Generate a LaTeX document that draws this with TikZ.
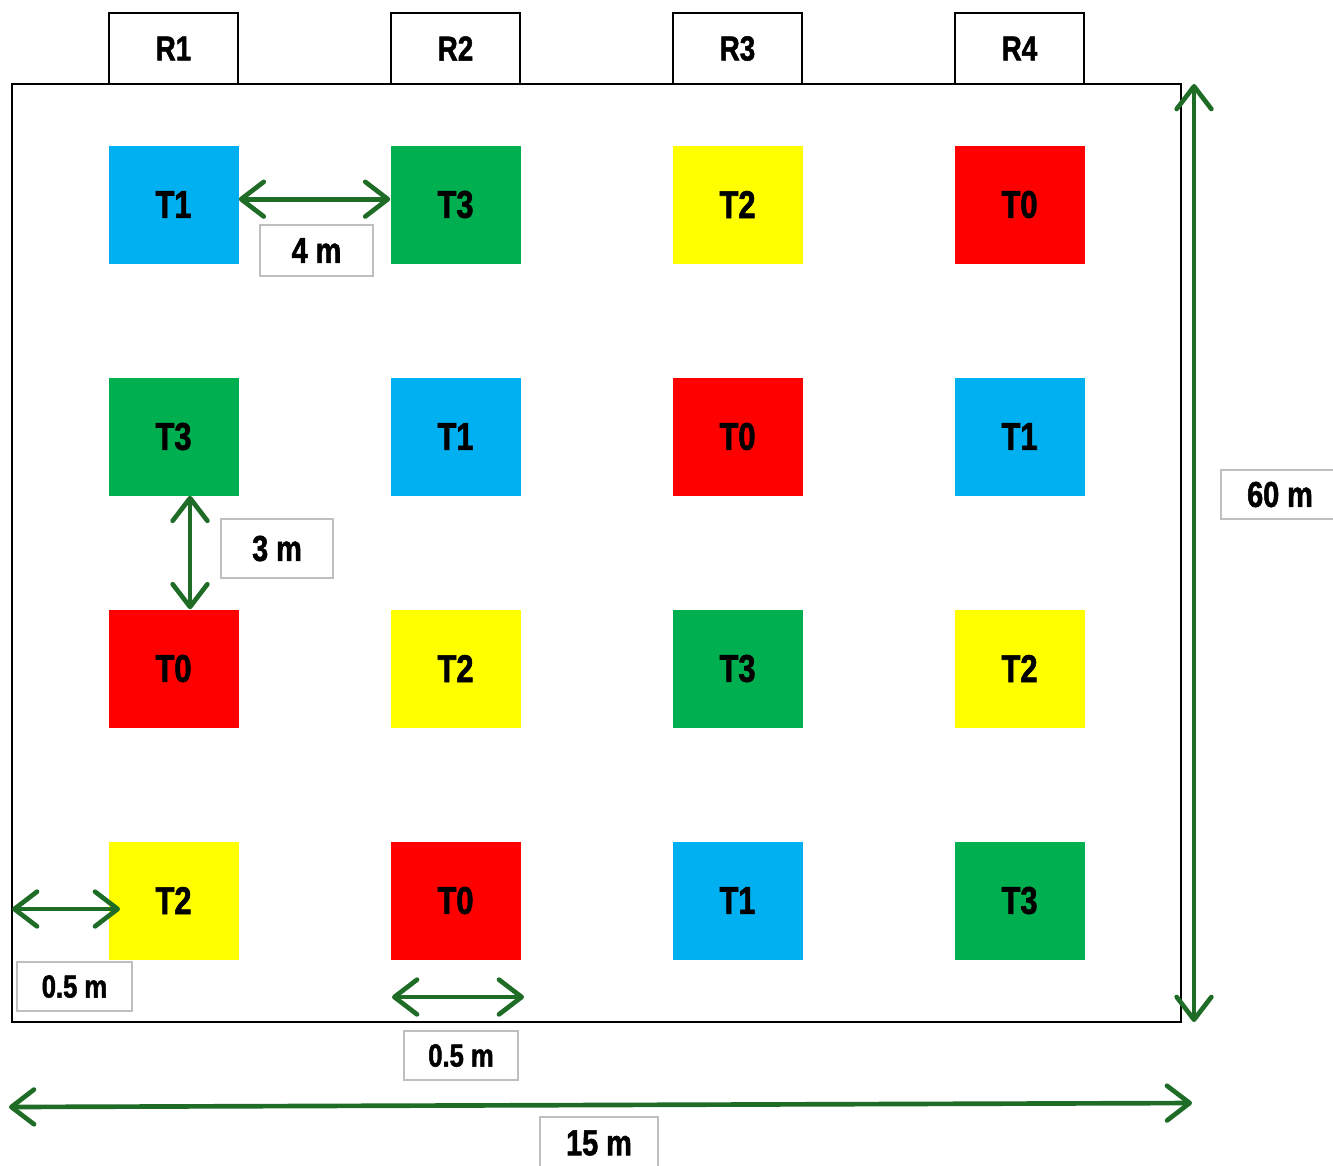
\documentclass[tikz,border=0pt]{standalone}
\usepackage{fontspec}
\setmainfont{Liberation Sans}[FakeStretch=0.8,FakeBold=1.5]
\usetikzlibrary{arrows.meta}

\definecolor{tzero}{RGB}{255,0,0}
\definecolor{tone}{RGB}{0,176,240}
\definecolor{ttwo}{RGB}{255,255,0}
\definecolor{tthree}{RGB}{0,176,80}
\definecolor{dimgreen}{RGB}{30,108,38}
\definecolor{boxgray}{RGB}{191,191,191}

\tikzset{
  plotbox/.style={minimum width=97.5pt,minimum height=88.5pt,inner sep=0pt,
    font=\bfseries\fontsize{29}{31}\selectfont},
  T0/.style={fill=tzero},
  T1/.style={fill=tone},
  T2/.style={fill=ttwo},
  T3/.style={fill=tthree},
  reptab/.style={draw,line width=1.9pt,minimum width=96.75pt,minimum height=53.25pt,
    inner sep=0pt,font=\bfseries\fontsize{26}{28}\selectfont},
  dimlabel/.style={draw=boxgray,line width=1.9pt,fill=white,inner sep=0pt,
    minimum width=85.5pt,minimum height=36.75pt,font=\bfseries\fontsize{24}{26}\selectfont},
  dimarrow/.style={draw=dimgreen,line width=3.5pt,
    {Straight Barb[length=17pt,width=26pt,round]}-{Straight Barb[length=17pt,width=26pt,round]}}
}

\begin{document}
\begin{tikzpicture}[x=0.75pt,y=0.75pt,yscale=-1,xscale=1]
\useasboundingbox (0,0) rectangle (1333,1165);

%Shape: Field
\draw[line width=2pt] (12,84) rectangle (1181,1022);
\coordinate (fieldtl) at (12,84);
\coordinate (fieldbl) at (12,1022);

% Replication tabs
\foreach \c in {1,...,4}
  \node[reptab] (r\c) at ({173.5+282*(\c-1)},48.5) {R\c};

% Treatment plots
\foreach \tr [count=\r] in {{T1,T3,T2,T0},{T3,T1,T0,T1},{T0,T2,T3,T2},{T2,T0,T1,T3}}
  \foreach \tl [count=\c] in \tr
    \node[plotbox,\tl] (t\r\c) at ({173.5+282*(\c-1)},{204.5+232*(\r-1)}) {\tl};

%Dimension arrows
\draw[dimarrow] ([yshift=-4pt]t11.east) -- ([yshift=-4pt]t12.west);
\draw[dimarrow] ([xshift=12.4pt]t21.south) -- ([xshift=12.4pt]t31.north);
\coordinate (lefta) at (12,909);
\coordinate (leftb) at (120,909);
\draw[dimarrow] (lefta) -- (leftb);
\coordinate (bota) at (392,997);
\coordinate (botb) at (524,997);
\draw[dimarrow] (bota) -- (botb);
\coordinate (widea) at (9,1107);
\coordinate (wideb) at (1192,1103);
\draw[dimarrow] (widea) -- (wideb);
\coordinate (tallb) at (1194,84);
\coordinate (talla) at (1194,1022);
\draw[dimarrow] (talla) -- (tallb);

% Text Node
\node[dimlabel,minimum width=84.75pt,minimum height=38.25pt,font=\bfseries\fontsize{27}{29}\selectfont] (lfour) at (316.5,250.5) {4 m};
\node[dimlabel,minimum width=84pt,minimum height=44pt,font=\bfseries\fontsize{27}{29}\selectfont] (lthree) at (277,548.5) {3 m};
\node[dimlabel,minimum width=86.25pt] (ledge) at (74.5,986.5) {0.5 m};
\node[dimlabel] (lpath) at (461,1055.5) {0.5 m};
\node[dimlabel,minimum width=88.5pt,font=\bfseries\fontsize{27}{29}\selectfont] (lsixty) at (1280,494.5) {60 m};
\node[dimlabel,minimum width=88.5pt,minimum height=39pt,font=\bfseries\fontsize{27}{29}\selectfont] (lfifteen) at (599,1143) {15 m};

\end{tikzpicture}
\end{document}
